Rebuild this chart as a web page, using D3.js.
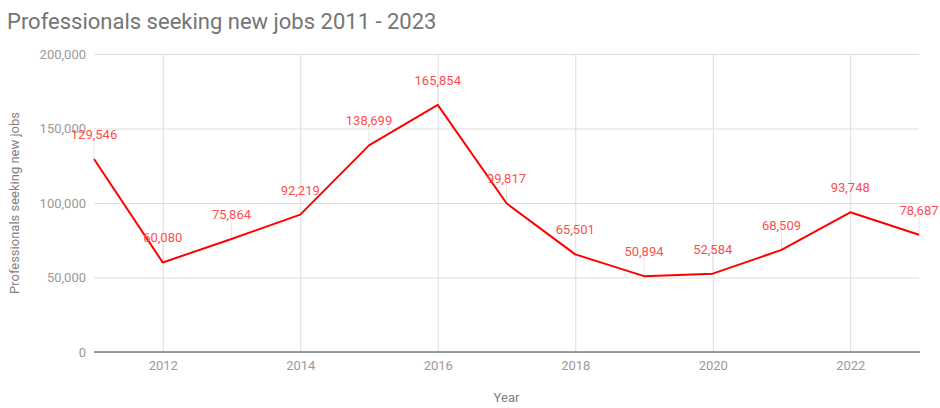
<!DOCTYPE html>
<html>
<head>
<meta charset="utf-8">
<script src="https://cdn.jsdelivr.net/npm/d3@7"></script>
<style>
  html, body { margin: 0; padding: 0; background: #fff; }
  svg { display: block; font-family: Roboto, "Noto Sans", Arial, sans-serif; }
</style>
</head>
<body>
<svg id="chart" width="940" height="408"></svg>
<script>
const years = [2011, 2012, 2013, 2014, 2015, 2016, 2017, 2018, 2019, 2020, 2021, 2022, 2023];
const seekers = [129546, 60080, 75864, 92219, 138699, 165854, 99817, 65501, 50894, 52584, 68509, 93748, 78687];
const yTicks = [0, 50000, 100000, 150000, 200000];
const xTicks = [2012, 2014, 2016, 2018, 2020, 2022];
const titleText = "Professionals seeking new jobs 2011 - 2023";
const yAxisTitle = "Professionals seeking new jobs";
const xAxisTitle = "Year";

(function () {
const svg = d3.select("#chart");
const pl = 94, pr = 919, pt = 54, pb = 352;

const x = d3.scaleLinear().domain([2011, 2023]).range([pl, pr]);
const y = d3.scaleLinear().domain([0, 200000]).range([pb, pt]);
const fmt = d3.format(",");

// Title
svg.append("text")
  .attr("x", 7).attr("y", 29)
  .attr("fill", "#757575")
  .attr("font-size", 22)
  .text(titleText);

// Horizontal gridlines
const yAxis = d3.axisLeft(y).tickValues(yTicks).tickFormat(fmt)
  .tickSize(-(pr - pl)).tickPadding(8);
const gy = svg.append("g").attr("transform", `translate(${pl},0)`).call(yAxis);
gy.select(".domain").remove();
gy.selectAll(".tick line").attr("stroke", "#dddddd").attr("stroke-width", 1);
gy.selectAll(".tick text").attr("fill", "#9a9a9a").attr("font-size", 13)
  .attr("font-family", "Roboto, sans-serif");

// Vertical gridlines + x labels
const xAxis = d3.axisBottom(x).tickValues(xTicks).tickFormat(d3.format("d"))
  .tickSize(-(pb - pt)).tickPadding(9);
const gx = svg.append("g").attr("transform", `translate(0,${pb})`).call(xAxis);
gx.select(".domain").remove();
gx.selectAll(".tick line").attr("stroke", "#dddddd").attr("stroke-width", 1);
gx.selectAll(".tick text").attr("fill", "#9a9a9a").attr("font-size", 13)
  .attr("font-family", "Roboto, sans-serif");

// Baseline
svg.append("line")
  .attr("x1", pl).attr("x2", pr + 1)
  .attr("y1", y(0)).attr("y2", y(0))
  .attr("stroke", "#7a7a7a").attr("stroke-width", 1.5);

// Axis titles
svg.append("text")
  .attr("transform", `translate(19,${(pt + pb) / 2}) rotate(-90)`)
  .attr("text-anchor", "middle")
  .attr("fill", "#808080").attr("font-size", 13)
  .text(yAxisTitle);
svg.append("text")
  .attr("x", (pl + pr) / 2).attr("y", 402)
  .attr("text-anchor", "middle")
  .attr("fill", "#808080").attr("font-size", 13)
  .text(xAxisTitle);

const data = years.map((yr, i) => ({ year: yr, value: seekers[i] }));

// Annotation stems
svg.append("g").selectAll("line").data(data).join("line")
  .attr("x1", d => x(d.year)).attr("x2", d => x(d.year))
  .attr("y1", d => y(d.value)).attr("y2", d => y(d.value) - 18)
  .attr("stroke", "#e6e6e6").attr("stroke-width", 1);

// Line
const line = d3.line().x(d => x(d.year)).y(d => y(d.value));
svg.append("path").datum(data)
  .attr("d", line)
  .attr("fill", "none")
  .attr("stroke", "#ff0000")
  .attr("stroke-width", 2)
  .attr("stroke-linejoin", "round");

// Data labels
svg.append("g").selectAll("text").data(data).join("text")
  .attr("x", d => x(d.year))
  .attr("y", d => y(d.value) - 20)
  .attr("text-anchor", "middle")
  .attr("fill", "#ff4d4d")
  .attr("font-size", 13)
  .text(d => fmt(d.value));
})();
</script>
</body>
</html>
